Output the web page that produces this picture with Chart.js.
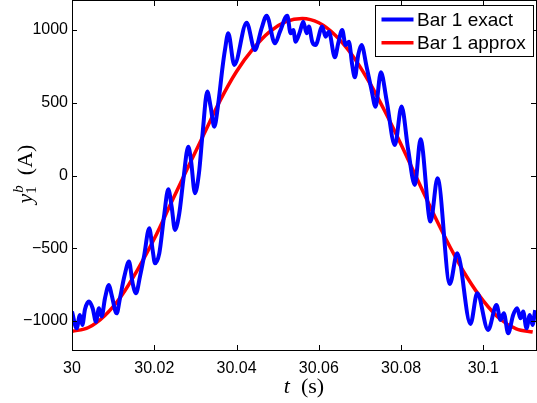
<!DOCTYPE html>
<html>
<head>
<meta charset="utf-8">
<script src="https://cdn.jsdelivr.net/npm/chart.js@4.4.0/dist/chart.umd.min.js"></script>
<style>
  body { margin: 0; background: #fff; }
  canvas { display: block; }
</style>
</head>
<body>
<canvas id="chart" width="537" height="403"></canvas>
<script>
// axis ticks
const xTicks = [30, 30.02, 30.04, 30.06, 30.08, 30.1];
const yTicks = [-1000, -500, 0, 500, 1000];

// Bar 1 exact (mostly at the wiggle extrema)
const exactT = [
  30.00000, 30.00113, 30.00194, 30.00251, 30.00316, 30.00413, 30.00502, 30.00583,
  30.00656, 30.00721, 30.00802, 30.00899, 30.00964, 30.01086, 30.01166, 30.01272,
  30.01385, 30.01474, 30.01555, 30.01652, 30.01750, 30.01879, 30.01960, 30.02017,
  30.02122, 30.02236, 30.02341, 30.02422, 30.02503, 30.02608, 30.02706, 30.02827,
  30.02892, 30.02989, 30.03086, 30.03175, 30.03289, 30.03370, 30.03459, 30.03556,
  30.03661, 30.03718, 30.03799, 30.03945, 30.04245, 30.04447, 30.04609, 30.04731,
  30.04933, 30.05055, 30.05233, 30.05314, 30.05379, 30.05436, 30.05541, 30.05622,
  30.05703, 30.05759, 30.05840, 30.05921, 30.06083, 30.06164, 30.06245, 30.06391,
  30.06472, 30.06569, 30.06651, 30.06731, 30.06812, 30.06877, 30.06958, 30.07039,
  30.07161, 30.07282, 30.07379, 30.07510, 30.07647, 30.07849, 30.08011, 30.08173,
  30.08335, 30.08473, 30.08716, 30.08886, 30.09186, 30.09364, 30.09688, 30.09850,
  30.10117, 30.10320, 30.10417, 30.10498, 30.10603, 30.10725, 30.10822, 30.10903,
  30.10968, 30.11049, 30.11130, 30.11195, 30.11260
];
const exactY = [
  -936, -1051, -959, -1028, -920, -867, -913, -1005,
  -913, -970, -844, -753, -822, -948, -844, -695,
  -592, -741, -810, -695, -558, -363, -512, -604,
  -535, -283, -95, -214, -374, -260, -31, 198,
  107, -122, 15, 290, 577, 473, 336, 496,
  748, 863, 978, 760, 1051, 863, 1012, 1099,
  909, 989, 1099, 978, 1001, 920, 989, 1058,
  978, 1024, 920, 897, 1024, 955, 989, 813,
  909, 1001, 897, 920, 760, 675, 829, 897,
  749, 588, 473, 710, 519, 210, 474, 176,
  -65, 249, -317, -19, -746, -535, -1021, -810,
  -1062, -890, -993, -948, -1085, -959, -913, -982,
  -936, -1051, -959, -1028, -925
];

// Bar 1 approx
const approxT = [
  30.000, 30.004, 30.008, 30.012, 30.016, 30.020, 30.024, 30.028,
  30.032, 30.036, 30.040, 30.044, 30.048, 30.052, 30.056, 30.060,
  30.064, 30.068, 30.072, 30.076, 30.080, 30.084, 30.088, 30.092,
  30.096, 30.100, 30.104, 30.108, 30.112
];
const approxY = [
  -1072, -1045, -962, -828, -645, -435, -195, 45,
  280, 515, 715, 870, 988, 1058, 1080, 1050,
  965, 832, 655, 445, 213, -30, -270, -497,
  -698, -862, -985, -1055, -1076
];

const toPoints = (ts, ys) => ts.map((t, i) => ({ x: t, y: ys[i] }));

const tickFont = { family: '"Liberation Sans", Arial, sans-serif', size: 16 };

// box, inward ticks, axis titles and legend in the MATLAB style
const matlabAxes = {
    id: 'matlabAxes',
    afterDatasetsDraw(chart) {
        const { ctx, chartArea: a, scales: { x, y } } = chart;
        ctx.save();
        ctx.strokeStyle = '#000';
        ctx.lineWidth = 1;
        ctx.strokeRect(a.left + 0.5, a.top - 0.5, a.right - a.left, a.bottom - a.top + 1);
        ctx.beginPath();
        xTicks.forEach(v => {
            const px = Math.round(x.getPixelForValue(v)) + 0.5;
            ctx.moveTo(px, a.bottom); ctx.lineTo(px, a.bottom - 5);
            ctx.moveTo(px, a.top); ctx.lineTo(px, a.top + 5);
        });
        yTicks.forEach(v => {
            const py = Math.round(y.getPixelForValue(v)) + 0.5;
            ctx.moveTo(a.left, py); ctx.lineTo(a.left + 5, py);
            ctx.moveTo(a.right, py); ctx.lineTo(a.right - 5, py);
        });
        ctx.stroke();
        ctx.restore();
    },
    afterDraw(chart) {
        const { ctx } = chart;
        const serif = '"Liberation Serif", "DejaVu Serif", serif';
        ctx.save();
        ctx.fillStyle = '#000';
        ctx.textBaseline = 'alphabetic';

        // x title: t (s)
        ctx.font = 'italic 22px ' + serif;
        const wT = ctx.measureText('t').width;
        ctx.font = '22px ' + serif;
        const wS = ctx.measureText('  (s)').width;
        let sx = 304 - (wT + wS) / 2;
        ctx.font = 'italic 22px ' + serif;
        ctx.fillText('t', sx, 393);
        ctx.font = '22px ' + serif;
        ctx.fillText('  (s)', sx + wT, 393);

        // y title: y_1^b (A), rotated
        ctx.translate(31.5, 174);
        ctx.rotate(-Math.PI / 2);
        ctx.font = 'italic 22px ' + serif;
        const wy = ctx.measureText('y').width;
        ctx.font = 'italic 15px ' + serif;
        const wb = ctx.measureText('b').width;
        ctx.font = '15px ' + serif;
        const w1 = ctx.measureText('1').width;
        const wsub = Math.max(wb, w1);
        ctx.font = '22px ' + serif;
        const wA = ctx.measureText('  (A)').width;
        let ty = -(wy + wsub + wA) / 2;
        ctx.font = 'italic 22px ' + serif;
        ctx.fillText('y', ty, 0);
        ctx.font = 'italic 15px ' + serif;
        ctx.fillText('b', ty + wy + 1, -9);
        ctx.font = '15px ' + serif;
        ctx.fillText('1', ty + wy, 4);
        ctx.font = '22px ' + serif;
        ctx.fillText('  (A)', ty + wy + wsub, 0);
        ctx.setTransform(1, 0, 0, 1, 0, 0);

        // legend box
        ctx.fillStyle = '#fff';
        ctx.fillRect(375.5, 5.5, 158, 51);
        ctx.strokeStyle = '#000';
        ctx.lineWidth = 1;
        ctx.strokeRect(375.5, 5.5, 158, 51);
        ctx.font = '19px "Liberation Sans", Arial, sans-serif';
        chart.data.datasets.forEach((ds, i) => {
            const ly = 19.5 + i * 23.3;
            ctx.strokeStyle = ds.borderColor;
            ctx.lineWidth = ds.borderWidth;
            ctx.beginPath();
            ctx.moveTo(381.5, ly);
            ctx.lineTo(413.5, ly);
            ctx.stroke();
            ctx.fillStyle = '#000';
            ctx.fillText(ds.label, 417, ly + 6.5);
        });
        ctx.restore();
    }
};

new Chart(document.getElementById('chart'), {
    type: 'line',
    data: {
        datasets: [{
            label: 'Bar 1 exact',
            data: toPoints(exactT, exactY),
            borderColor: '#0000ff',
            borderWidth: 4,
            cubicInterpolationMode: 'monotone',
            pointRadius: 0,
            fill: false
        }, {
            label: 'Bar 1 approx',
            data: toPoints(approxT, approxY),
            borderColor: '#ff0000',
            borderWidth: 3.5,
            cubicInterpolationMode: 'monotone',
            pointRadius: 0,
            fill: false
        }]
    },
    options: {
        responsive: false,
        animation: false,
        layout: { padding: { left: 0, right: 1, top: 1, bottom: 0 } },
        plugins: {
            legend: { display: false },
            tooltip: { enabled: false }
        },
        scales: {
            x: {
                type: 'linear',
                min: 30,
                max: 30.1128,
                afterBuildTicks: s => { s.ticks = xTicks.map(v => ({ value: v })); },
                afterFit: s => { s.height = 53; s.paddingLeft = 0; s.paddingRight = 0; },
                grid: { display: false, drawTicks: false },
                border: { display: false },
                ticks: {
                    font: tickFont,
                    color: '#000',
                    padding: 9,
                    maxRotation: 0,
                    autoSkip: false,
                    callback: v => String(+v.toFixed(2))
                }
            },
            y: {
                min: -1200,
                max: 1200,
                afterBuildTicks: s => { s.ticks = yTicks.map(v => ({ value: v })); },
                afterFit: s => { s.width = 72; s.paddingTop = 0; s.paddingBottom = 0; },
                grid: { display: false, drawTicks: false },
                border: { display: false },
                ticks: {
                    font: tickFont,
                    color: '#000',
                    padding: 4,
                    callback: v => String(v).replace('-', '\u2212')
                }
            }
        }
    },
    plugins: [matlabAxes]
});
</script>
</body>
</html>
